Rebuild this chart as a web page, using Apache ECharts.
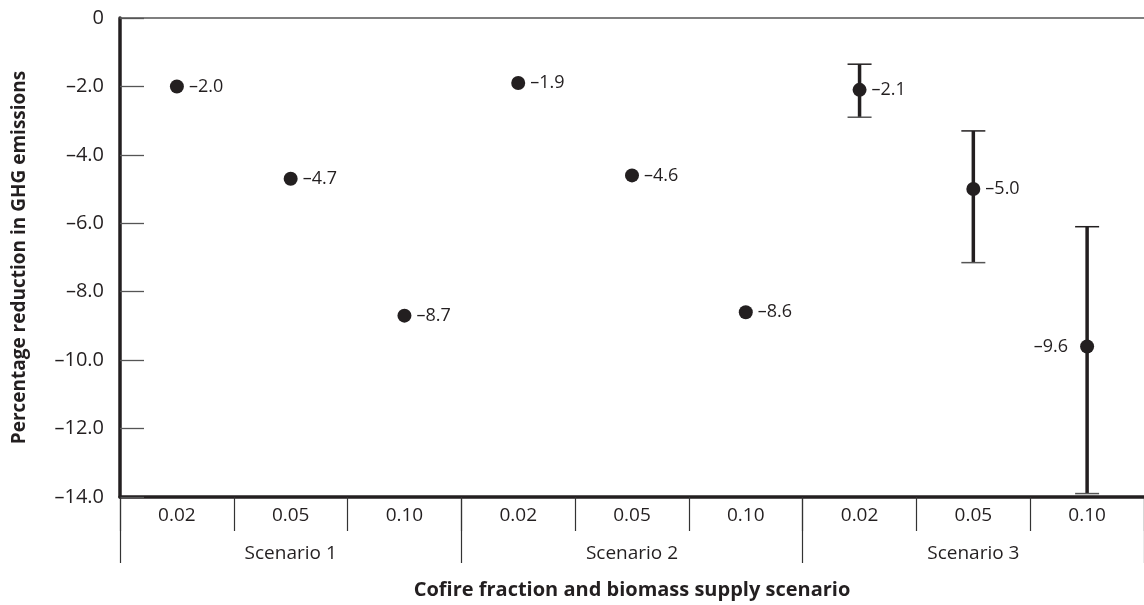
<!DOCTYPE html>
<html>
<head>
<meta charset="utf-8">
<script src="https://cdn.jsdelivr.net/npm/echarts@6/dist/echarts.min.js"></script>
<style>
  html, body { margin: 0; padding: 0; background: #fff; }
  #chart { width: 1144px; height: 605px; }
</style>
</head>
<body>
<div id="chart"></div>
<script>
const fractions = ['0.02', '0.05', '0.10', '0.02', '0.05', '0.10', '0.02', '0.05', '0.10'];
const scenarios = ['Scenario 1', 'Scenario 2', 'Scenario 3'];
const reductions = [-2.0, -4.7, -8.7, -1.9, -4.6, -8.6, -2.1, -5.0, -9.6];
// error ranges, only for scenario 3 (index, upper, lower)
const errIndex = [6, 7, 8];
const errHigh = [-1.35, -3.3, -6.1];
const errLow = [-2.9, -7.15, -13.9];
const yTicks = [0, -2, -4, -6, -8, -10, -12, -14];
const yTickLabels = ['0', '–2.0', '–4.0', '–6.0', '–8.0', '–10.0', '–12.0', '–14.0'];

const ink = '#231f20';
const font = 'Open Sans';

const chart = echarts.init(document.getElementById('chart'));

const pointData = reductions.map((v, i) => {
  const item = { value: [i, v] };
  if (i === 8) {
    item.label = { position: 'left', distance: 12 };
  }
  return item;
});

const errData = errIndex.map((idx, k) => [idx, errHigh[k], errLow[k]]);

chart.setOption({
  animation: false,
  grid: { left: 120, top: 18, right: -7, bottom: 108 },
  xAxis: [
    {
      type: 'category',
      data: fractions,
      position: 'bottom',
      axisLine: { show: true, onZero: false, lineStyle: { color: ink, width: 3.5 } },
      axisTick: { show: true, interval: 0, length: 34, lineStyle: { color: '#333', width: 1.2 } },
      axisLabel: { color: ink, fontSize: 19, fontFamily: font, margin: 9, interval: 0 },
      name: 'Cofire fraction and biomass supply scenario',
      nameLocation: 'middle',
      nameGap: 83,
      nameTextStyle: { color: ink, fontSize: 20, fontWeight: 'bold', fontFamily: font }
    },
    {
      type: 'category',
      data: scenarios,
      position: 'bottom',
      axisLine: { show: false, onZero: false },
      axisTick: { show: true, interval: 0, length: 66, lineStyle: { color: '#333', width: 1.2 } },
      axisLabel: { color: ink, fontSize: 19, fontFamily: font, margin: 47, interval: 0 }
    },
    {
      type: 'category',
      data: fractions,
      position: 'top',
      axisLine: { show: true, onZero: false, lineStyle: { color: '#555', width: 1.5 } },
      axisTick: { show: false },
      axisLabel: { show: false }
    }
  ],
  yAxis: {
    type: 'value',
    min: -14,
    max: 0,
    interval: 2,
    axisLine: { show: true, lineStyle: { color: ink, width: 3.5 } },
    axisTick: { show: true, inside: true, length: 24, lineStyle: { color: '#555', width: 1.3 } },
    splitLine: { show: false },
    axisLabel: {
      color: ink,
      fontSize: 20,
      fontFamily: font,
      margin: 16,
      formatter: function (v) {
        const i = yTicks.indexOf(v);
        return i >= 0 ? yTickLabels[i] : '';
      }
    },
    name: 'Percentage reduction in GHG emissions',
    nameLocation: 'middle',
    nameGap: 91,
    nameTextStyle: { color: ink, fontSize: 19, fontWeight: 'bold', fontFamily: font }
  },
  series: [
    {
      type: 'custom',
      xAxisIndex: 0,
      data: errData,
      z: 2,
      renderItem: function (params, api) {
        const x = api.value(0);
        const top = api.coord([x, api.value(1)]);
        const bot = api.coord([x, api.value(2)]);
        const half = 12;
        return {
          type: 'group',
          children: [
            { type: 'line', shape: { x1: top[0], y1: top[1], x2: bot[0], y2: bot[1] },
              style: { stroke: ink, lineWidth: 3.5 } },
            { type: 'line', shape: { x1: top[0] - half, y1: top[1], x2: top[0] + half, y2: top[1] },
              style: { stroke: ink, lineWidth: 1.5 } },
            { type: 'line', shape: { x1: bot[0] - half, y1: bot[1], x2: bot[0] + half, y2: bot[1] },
              style: { stroke: '#555', lineWidth: 1.5 } }
          ]
        };
      }
    },
    {
      type: 'scatter',
      xAxisIndex: 0,
      data: pointData,
      symbol: 'circle',
      symbolSize: 14,
      z: 3,
      itemStyle: { color: ink, opacity: 1 },
      label: {
        show: true,
        position: 'right',
        distance: 5,
        color: ink,
        fontSize: 18,
        fontFamily: font,
        formatter: function (p) {
          return '–' + Math.abs(p.value[1]).toFixed(1);
        }
      }
    }
  ]
});
</script>
</body>
</html>
